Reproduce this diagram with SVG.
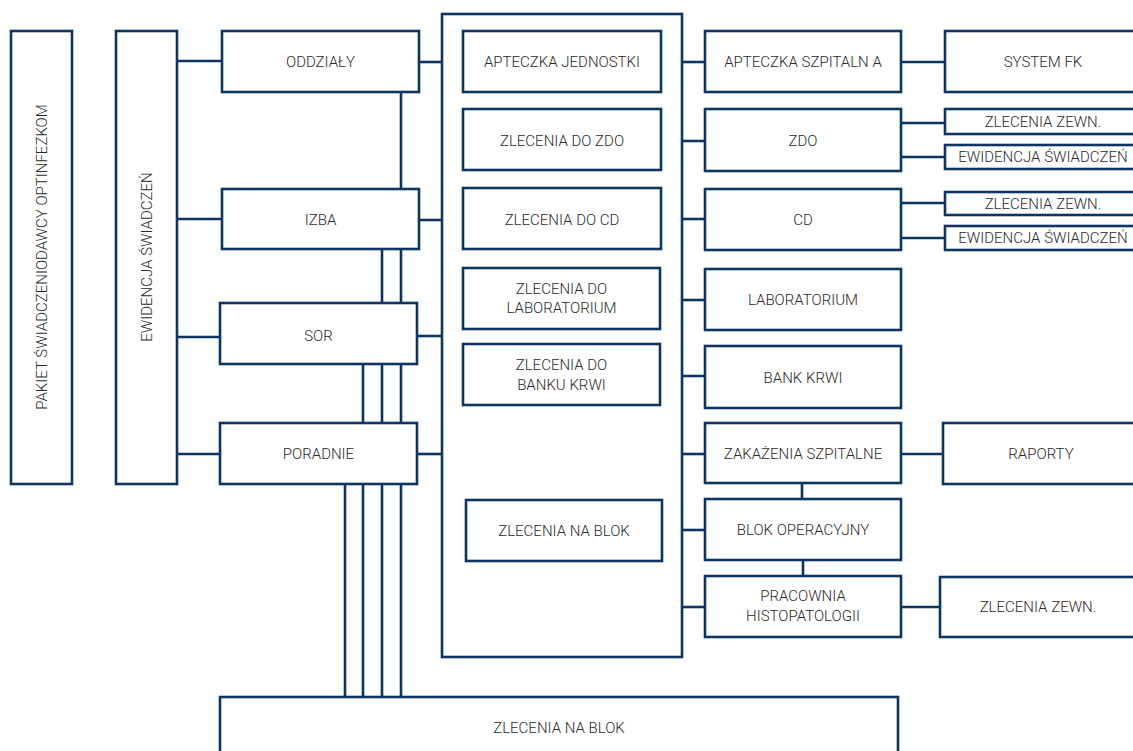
<svg xmlns="http://www.w3.org/2000/svg" width="1133" height="751" viewBox="0 0 1133 751">
<style>
rect{fill:#fff;stroke:#0c3561;stroke-width:2.6}
line,path{stroke:#0c3561;stroke-width:2.6;fill:none}
text{font-family:Roboto,"Liberation Sans",sans-serif;font-weight:300;font-size:15px;fill:#2a2a2a;text-anchor:middle;dominant-baseline:central}
</style>
<rect width="1133" height="751" style="stroke:none"/>
<g id="connectors">
<line x1="177" y1="61" x2="222" y2="61"/>
<line x1="177" y1="219" x2="222" y2="219"/>
<line x1="177" y1="337" x2="220" y2="337"/>
<line x1="177" y1="454" x2="220" y2="454"/>
<line x1="419" y1="62" x2="442" y2="62"/>
<line x1="419" y1="220" x2="442" y2="220"/>
<line x1="417" y1="336" x2="442" y2="336"/>
<line x1="417" y1="454" x2="442" y2="454"/>
<line x1="401" y1="92" x2="401" y2="189"/>
<line x1="382" y1="249" x2="382" y2="303"/>
<line x1="401" y1="249" x2="401" y2="303"/>
<line x1="363" y1="364" x2="363" y2="423"/>
<line x1="382" y1="364" x2="382" y2="423"/>
<line x1="401" y1="364" x2="401" y2="423"/>
<line x1="345" y1="484" x2="345" y2="697"/>
<line x1="363" y1="484" x2="363" y2="697"/>
<line x1="382" y1="484" x2="382" y2="697"/>
<line x1="401" y1="484" x2="401" y2="697"/>
<line x1="682" y1="62" x2="705" y2="62"/>
<line x1="682" y1="141" x2="705" y2="141"/>
<line x1="682" y1="219" x2="705" y2="219"/>
<line x1="682" y1="300" x2="705" y2="300"/>
<line x1="682" y1="376" x2="705" y2="376"/>
<line x1="682" y1="454" x2="705" y2="454"/>
<line x1="682" y1="530" x2="705" y2="530"/>
<line x1="682" y1="607" x2="705" y2="607"/>
<line x1="901" y1="62" x2="945" y2="62"/>
<line x1="901" y1="123" x2="945" y2="123"/>
<line x1="901" y1="157" x2="945" y2="157"/>
<line x1="901" y1="203" x2="945" y2="203"/>
<line x1="901" y1="238" x2="945" y2="238"/>
<line x1="901" y1="454" x2="943" y2="454"/>
<line x1="901" y1="607" x2="940" y2="607"/>
<line x1="802" y1="483" x2="802" y2="499"/>
<line x1="803" y1="560" x2="803" y2="576"/>
</g>
<g id="pakiet"><rect x="11" y="31" width="61" height="453"/><text transform="translate(41.5 257) rotate(-90)">PAKIET ŚWIADCZENIODAWCY OPTINFEZKOM</text></g>
<g id="ewidencja"><rect x="116" y="31" width="61" height="453"/><text transform="translate(146.5 257) rotate(-90)">EWIDENCJA ŚWIADCZEŃ</text></g>
<g id="oddzialy"><rect x="222" y="31" width="197" height="61"/><text x="320.5" y="61.5">ODDZIAŁY</text></g>
<g id="izba"><rect x="222" y="189" width="197" height="60"/><text x="320.5" y="219.5">IZBA</text></g>
<g id="sor"><rect x="220" y="303" width="197" height="61"/><text x="318.5" y="335.5">SOR</text></g>
<g id="poradnie"><rect x="220" y="423" width="197" height="61"/><text x="318.5" y="453.5">PORADNIE</text></g>
<g id="zlecenia-blok-bottom"><rect x="220" y="697" width="678" height="60"/><text x="559" y="728">ZLECENIA NA BLOK</text></g>
<g id="container"><rect x="442" y="14" width="240" height="643"/></g>
<g id="apteczka-jednostki"><rect x="463" y="31" width="198" height="61"/><text x="562" y="61.5">APTECZKA JEDNOSTKI</text></g>
<g id="zlecenia-zdo"><rect x="463" y="109" width="198" height="61"/><text x="562" y="140.5">ZLECENIA DO ZDO</text></g>
<g id="zlecenia-cd"><rect x="463" y="188" width="198" height="61"/><text x="562" y="219.5">ZLECENIA DO CD</text></g>
<g id="zlecenia-lab"><rect x="463" y="268" width="197" height="61"/><text x="561.5" y="289">ZLECENIA DO</text><text x="561.5" y="308">LABORATORIUM</text></g>
<g id="zlecenia-bank"><rect x="463" y="344" width="197" height="61"/><text x="561.5" y="365">ZLECENIA DO</text><text x="561.5" y="385">BANKU KRWI</text></g>
<g id="zlecenia-blok"><rect x="466" y="500" width="196" height="61"/><text x="564" y="530.5">ZLECENIA NA BLOK</text></g>
<g id="apteczka-szpitalna"><rect x="705" y="31" width="196" height="61"/><text x="803" y="61.5">APTECZKA SZPITALN A</text></g>
<g id="zdo"><rect x="705" y="109" width="196" height="62"/><text x="803" y="141">ZDO</text></g>
<g id="cd"><rect x="705" y="189" width="196" height="61"/><text x="803" y="220">CD</text></g>
<g id="laboratorium"><rect x="705" y="269" width="196" height="61"/><text x="803" y="300">LABORATORIUM</text></g>
<g id="bank-krwi"><rect x="705" y="346" width="196" height="62"/><text x="803" y="377.5">BANK KRWI</text></g>
<g id="zakazenia"><rect x="705" y="423" width="196" height="60"/><text x="803" y="453.5">ZAKAŻENIA SZPITALNE</text></g>
<g id="blok-operacyjny"><rect x="705" y="499" width="196" height="61"/><text x="803" y="530">BLOK OPERACYJNY</text></g>
<g id="histopatologia"><rect x="705" y="576" width="196" height="61"/><text x="803" y="596">PRACOWNIA</text><text x="803" y="616">HISTOPATOLOGII</text></g>
<g id="system-fk"><rect x="945" y="31" width="200" height="61"/><text x="1043" y="61.5">SYSTEM FK</text></g>
<g id="zdo-zlecenia"><rect x="945" y="109" width="200" height="25"/><text x="1043" y="121.5">ZLECENIA ZEWN.</text></g>
<g id="zdo-ewidencja"><rect x="945" y="145" width="200" height="24"/><text x="1043" y="157">EWIDENCJA ŚWIADCZEŃ</text></g>
<g id="cd-zlecenia"><rect x="945" y="192" width="200" height="23"/><text x="1043" y="203.5">ZLECENIA ZEWN.</text></g>
<g id="cd-ewidencja"><rect x="945" y="226" width="200" height="24"/><text x="1043" y="238">EWIDENCJA ŚWIADCZEŃ</text></g>
<g id="raporty"><rect x="943" y="423" width="200" height="61"/><text x="1041" y="453.5">RAPORTY</text></g>
<g id="histo-zlecenia"><rect x="940" y="577" width="200" height="60"/><text x="1038" y="607">ZLECENIA ZEWN.</text></g>
</svg>
